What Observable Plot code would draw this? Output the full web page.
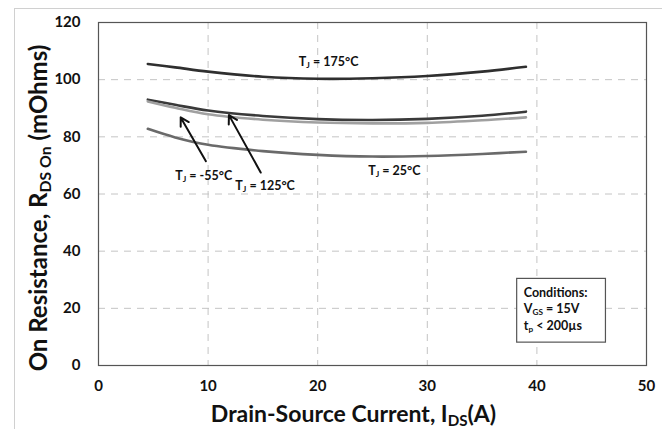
<!DOCTYPE html>
<html><head><meta charset="utf-8">
<script src="https://cdn.jsdelivr.net/npm/d3@7"></script>
<script src="https://cdn.jsdelivr.net/npm/@observablehq/plot@0.6"></script>
<style>
body{margin:0;background:#fff;}
#wrap{position:relative;width:662px;height:429px;overflow:hidden;}
#border{position:absolute;left:14px;top:8px;width:700px;height:500px;border:1px solid #d0d0d0;box-sizing:border-box;}
</style></head>
<body><div id="wrap"><div id="border"></div></div>
<script>
// Drain-source current (A)
const current = [4.5, 7, 10, 15, 20, 25, 30, 35, 39];
// On resistance (mOhms) per junction temperature
const r175 = [105.5, 104.3, 102.8, 101.0, 100.3, 100.5, 101.3, 102.8, 104.5];
const r125 = [93.0, 91.2, 89.2, 87.3, 86.2, 85.9, 86.3, 87.4, 88.8];
const rM55 = [92.4, 90.2, 87.9, 86.0, 85.0, 84.7, 84.9, 85.8, 86.8];
const r25  = [82.8, 79.8, 77.2, 75.0, 73.7, 73.1, 73.3, 74.0, 74.8];
const seriesNames = ["175", "125", "-55", "25"];
const seriesColors = ["#2f2f2f", "#3a3a3a", "#a0a0a0", "#6a6a6a"];
const xTicks = [0, 10, 20, 30, 40, 50];
const yTicks = [0, 20, 40, 60, 80, 100, 120];
// annotation labels
const labelText = ["T_{J} = 175°C", "T_{J} = -55°C", "T_{J} = 125°C", "T_{J} = 25°C"];
const labelX = [21, 9.6, 15.2, 27];
const labelY = [106.3, 66.2, 62.7, 68];
// arrows (tail -> tip)
const arrowX1 = [9.8, 14.8], arrowY1 = [71.5, 67.5];
const arrowX2 = [7.5, 11.9], arrowY2 = [86.8, 87.6];
// conditions box
const boxX = [38.2, 46.3], boxY = [8.0, 30.3];
const condLines = ["Conditions:", "V_{GS} = 15V", "t_{p} < 200µs"];
const condY = [25.4, 19.6, 13.9];

const all = [r175, r125, rM55, r25];
const rows = [];
all.forEach((arr, k) => arr.forEach((v, i) => rows.push({I: current[i], R: v, s: seriesNames[k]})));

const font = "Lato, 'Open Sans', sans-serif";
const plot = Plot.plot({
  width: 662, height: 429,
  marginLeft: 98, marginRight: 16, marginTop: 22, marginBottom: 64,
  style: {fontFamily: font, fontWeight: "bold", background: "transparent", color: "#111"},
  x: {domain: [0, 50]},
  y: {domain: [0, 120]},
  color: {domain: seriesNames, range: seriesColors},
  marks: [
    Plot.gridX(xTicks.slice(1, -1), {stroke: "#c4c4c4", strokeOpacity: 1, strokeDasharray: "7,6"}),
    Plot.gridY(yTicks.slice(1, -1), {stroke: "#c4c4c4", strokeOpacity: 1, strokeDasharray: "7,6"}),
    Plot.frame({stroke: "#555", strokeWidth: 1.2}),
    Plot.axisX({ticks: xTicks, tickSize: 0, tickPadding: 15, label: null, fontSize: 15}),
    Plot.axisY({ticks: yTicks, tickSize: 0, tickPadding: 18, label: null, fontSize: 15}),
    Plot.line(rows, {x: "I", y: "R", z: "s", stroke: "s", strokeWidth: 2.6, curve: "catmull-rom"}),
    Plot.arrow(arrowX1.map((d, i) => i), {x1: i => arrowX1[i], y1: i => arrowY1[i], x2: i => arrowX2[i], y2: i => arrowY2[i], stroke: "#111", strokeWidth: 2, headLength: 7}),
    Plot.text(labelText, {x: (d, i) => labelX[i], y: (d, i) => labelY[i], text: d => d, fontSize: 12.5, fill: "#111"}),
    Plot.rect([0], {x1: boxX[0], x2: boxX[1], y1: boxY[0], y2: boxY[1], fill: "white", stroke: "#555", strokeWidth: 1.2}),
    Plot.text(condLines, {x: boxX[0] + 0.6, y: (d, i) => condY[i], text: d => d, textAnchor: "start", fontSize: 12.5, fill: "#111"}),
    Plot.text(["On Resistance, R_{DS On} (mOhms)"], {frameAnchor: "left", textAnchor: "middle", lineAnchor: "middle", rotate: -90, dx: -59, dy: 14, fontSize: 24, fill: "#111"}),
    Plot.text(["Drain-Source Current, I_{DS}(A)"], {frameAnchor: "bottom", textAnchor: "middle", lineAnchor: "middle", dx: -19, dy: 49, fontSize: 23, fill: "#111"})
  ]
});

// subscript formatting
d3.select(plot).selectAll("text").each(function() {
  const t = this.textContent;
  if (!t.includes("_{")) return;
  const el = d3.select(this);
  el.text(null);
  const re = /_\{([^}]*)\}/g;
  let last = 0, m;
  while ((m = re.exec(t)) !== null) {
    if (m.index > last) el.append("tspan").text(t.slice(last, m.index));
    el.append("tspan").attr("baseline-shift", "-28%").attr("font-size", "66%").text(m[1]);
    last = re.lastIndex;
  }
  if (last < t.length) el.append("tspan").text(t.slice(last));
});
plot.style.position = "absolute";
plot.style.left = "0"; plot.style.top = "0";
document.getElementById("wrap").appendChild(plot);
</script>
</body></html>
